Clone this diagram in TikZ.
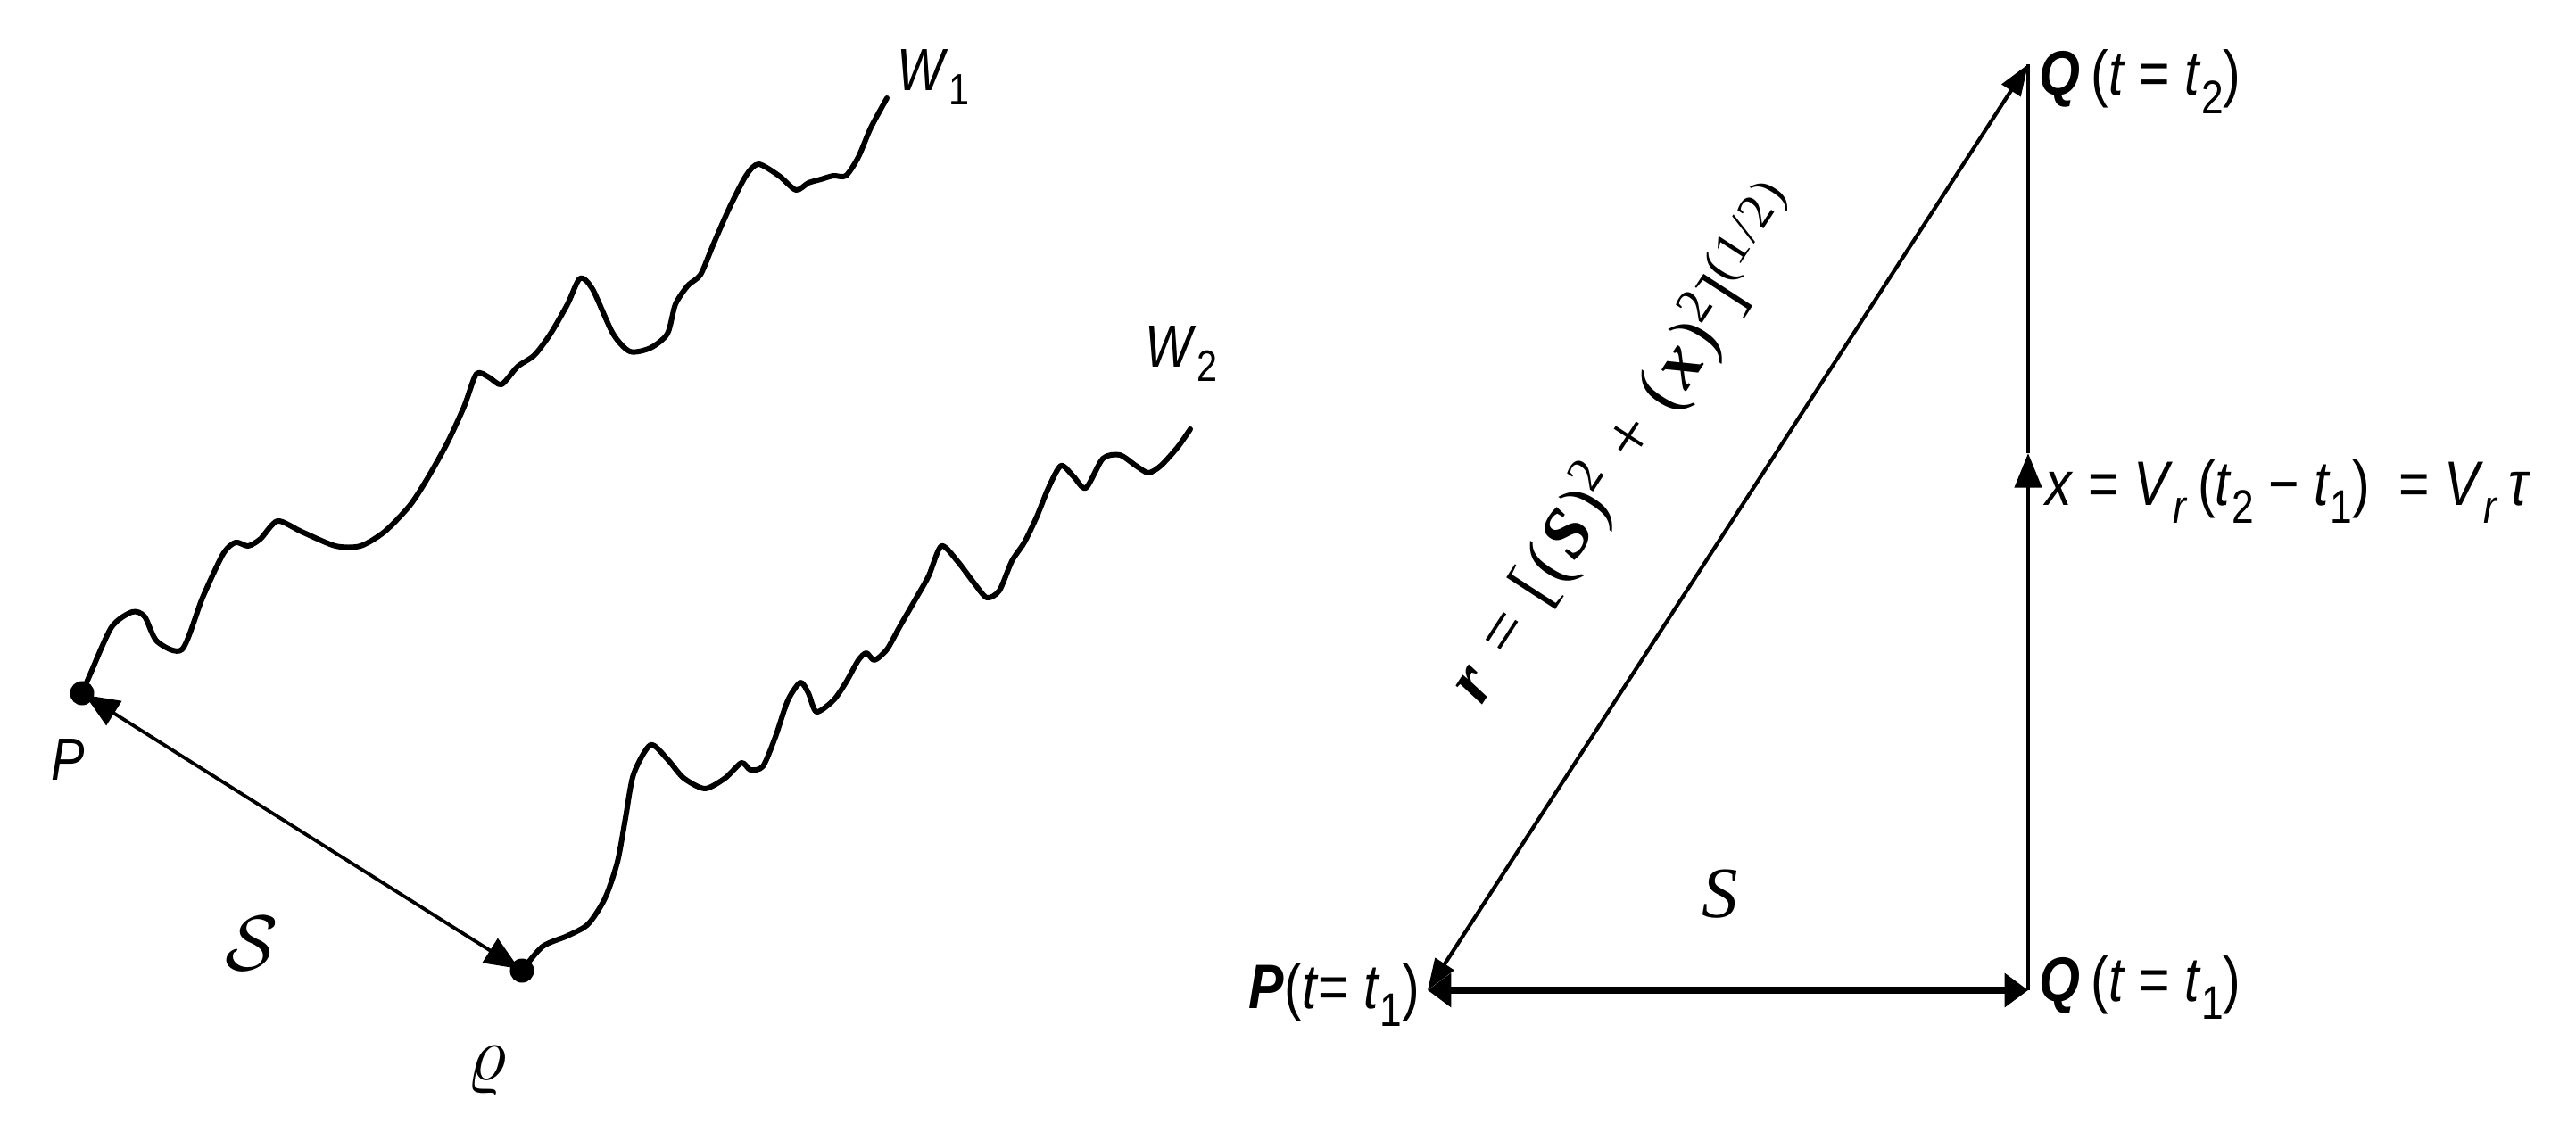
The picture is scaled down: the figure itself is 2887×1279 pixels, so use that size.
\documentclass[tikz,border=0pt]{standalone}
\usepackage{fontspec}
\setmainfont{Liberation Sans}
\newfontfamily\narrowsans[FakeStretch=0.84]{Liberation Sans}
\newfontfamily\serifsp[LetterSpace=6]{Liberation Serif}
\newfontfamily\seriffont{Liberation Serif}
\usetikzlibrary{arrows.meta,calc}
\newcommand{\lowr}[1]{\raisebox{-0.55ex}{\fontsize{15}{15}\selectfont #1}}
\newcommand{\lowsm}[1]{\raisebox{-0.45ex}{\fontsize{14}{14}\selectfont #1}}
\begin{document}
\begin{tikzpicture}[x=0.01cm,y=-0.01cm,
  walk/.style={line width=1.7pt,line join=round,line cap=round},
  dot/.style={circle,fill=black,inner sep=0pt,minimum size=0.27cm},
  thinarrow/.style={line width=1.1pt,{Triangle[length=11pt,width=9pt]}-{Triangle[length=11pt,width=9pt]},shorten <=-3pt,shorten >=-3pt},
  hyp/.style={line width=1.2pt,{Triangle[length=10pt,width=7pt]}-{Triangle[length=10pt,width=7pt]}},
  basearrow/.style={line width=2.5pt,{Triangle[length=7.5pt,width=10.5pt]}-{Triangle[length=7.5pt,width=10.5pt]}},
  vlow/.style={line width=1.4pt,-{Triangle[length=11pt,width=8.5pt]}},
  vup/.style={line width=0.9pt},
  lab/.style={inner sep=0pt,font=\narrowsans\fontsize{20}{24}\selectfont},
  wlab/.style={inner sep=0pt,font=\narrowsans\fontsize{19}{22}\selectfont}]
\useasboundingbox (0,0) rectangle (2887,1279);

% ---------- left: two random walks ----------
\node[dot] (Pd) at (92,777) {};
\node[dot] (Qd) at (585,1088) {};
\draw[walk] plot[smooth,tension=0.45] coordinates {(92,777) (101,756) (125,703) (148,686) (162,691) (176,719) (204,728) (227,670) (250,621) (264,608) (278,612) (292,604) (311,584) (338,596) (376,612) (404,612) (431,596) (459,567) (478,538) (501,497) (520,456) (534,419) (548,423) (562,431) (580,411) (599,398) (617,374) (636,341) (650,312) (664,324) (687,374) (706,394) (729,390) (748,374) (757,341) (771,320) (785,308) (799,275) (817,234) (836,197) (850,184) (873,197) (892,213) (906,205) (920,201) (934,197) (948,197) (962,176) (976,143) (994,110)};
\draw[walk] plot[smooth,tension=0.45] coordinates {(585,1088) (608,1061) (636,1049) (659,1036) (678,1007) (692,966) (701,917) (710,868) (729,835) (748,851) (766,872) (790,884) (813,872) (831,855) (841,863) (855,859) (869,826) (883,785) (897,765) (906,777) (915,798) (934,785) (948,765) (962,740) (971,732) (980,740) (994,728) (1008,703) (1027,670) (1041,645) (1055,612) (1073,629) (1092,654) (1106,670) (1120,662) (1134,629) (1148,608) (1162,579) (1175,547) (1189,522) (1203,534) (1217,547) (1236,514) (1255,510) (1273,522) (1287,530) (1301,522) (1320,501) (1334,481)};
\draw[thinarrow] (Pd) -- (Qd);
\node[wlab,anchor=base west] (W1) at (1005,102) {\textit{W}\lowsm{1}};
\node[wlab,anchor=base west] (W2) at (1283,412) {\textit{W}\lowsm{2}};
\node[wlab] (Plab) at (76,852) {\textit{P}};
\node[inner sep=0pt,font=\fontsize{24}{28}\selectfont] (slab) at (282,1058) {$\mathcal{S}$};
\node[inner sep=0pt,font=\fontsize{34}{38}\selectfont] (qlab) at (546,1200) {$\varrho$};

% ---------- right: triangle ----------
\coordinate (P1) at (1600,1110);
\coordinate (Q1) at (2273,1110);
\coordinate (Q2) at (2273,72);
\coordinate (M) at (2273,508);
\draw[vup] (M) -- (Q2);
\draw[vlow] (Q1) -- (M);
\draw[basearrow] (P1) -- (Q1);
\draw[hyp] (P1) -- (Q2);
\path (P1) -- (Q2) coordinate[pos=0.513] (rmid);
\node[rotate=57,inner sep=0pt,font=\serifsp\fontsize{22.5}{26}\selectfont] (rlab) at ($(rmid)+(-122,-80)$)
  {\textbf{\textit{r}} = [(\textbf{\textit{S}})\textsuperscript{2} + (\textbf{\textit{x}})\textsuperscript{2}]\textsuperscript{(1/2)}};
\node[lab,anchor=base west] (lQ2) at (2285,107) {\textbf{\textit{Q}}\,(\textit{t} = \textit{t}\lowr{2})};
\node[lab,anchor=base west] (lQ1) at (2285,1122) {\textbf{\textit{Q}}\,(\textit{t} = \textit{t}\lowr{1})};
\node[lab,anchor=base east] (lP1) at (1592,1130) {\textbf{\textit{P}}(\textit{t}= \textit{t}\lowr{1})};
\node[lab,anchor=base west] (lx) at (2292,566) {\textit{x} = \textit{V}\lowr{\textit{r}}\,(\textit{t}\lowr{2} − \textit{t}\lowr{1})\ \ = \textit{V}\lowr{\textit{r}}\,\textit{τ}};
\node[inner sep=0pt,font=\seriffont\fontsize{23}{26}\selectfont] (Slab) at (1928,1002) {\textit{S}};
\end{tikzpicture}
\end{document}
